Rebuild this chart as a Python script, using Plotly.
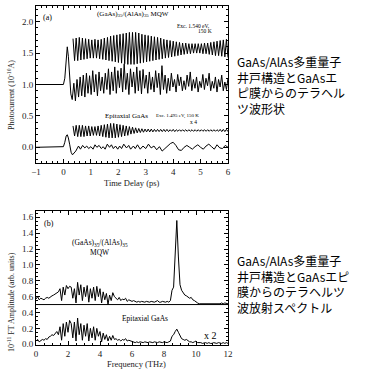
import numpy as np
import plotly.graph_objects as go

# ---------------- Panel (a): time-domain photocurrent ----------------
# MQW raw trace: onset part (time, value) then half-cycle extrema
mqw_raw_t0 = [-1.0, -0.6, -0.3, -0.1, 0.0, 0.05, 0.1, 0.14, 0.18, 0.22, 0.27, 0.32]
mqw_raw_v0 = [1.0, 1.0, 0.99, 1.0, 1.0, 1.1, 1.45, 1.6, 1.45, 1.15, 0.85, 0.76]
mqw_raw_osc = [
    1.02, 0.74, 1.08, 0.80, 1.12, 0.82, 1.15, 0.80, 1.18, 0.86,
    1.14, 0.84, 1.22, 0.88, 1.16, 0.82, 1.20, 0.90, 1.12, 0.86,
    1.18, 0.92, 1.25, 0.84, 1.20, 0.90, 1.28, 0.86, 1.22, 0.95,
    1.26, 0.88, 1.33, 0.92, 1.18, 0.84, 1.25, 0.96, 1.20, 0.86,
    1.28, 0.90, 1.22, 0.85, 1.24, 0.94, 1.15, 0.86, 1.20, 0.92,
    1.12, 0.88, 1.22, 0.95, 1.18, 0.84, 1.30, 0.92, 1.15, 0.86,
    1.10, 0.90, 1.18, 0.96, 1.08, 0.88, 1.16, 0.98, 1.12, 0.90,
    1.06, 0.92, 1.15, 0.97, 1.20, 0.90, 1.08, 0.94, 1.12, 0.88,
    1.05, 0.95, 1.16, 0.92, 1.10, 0.98, 1.18, 0.90, 1.05, 0.94,
    1.12, 0.88, 1.08, 0.96, 1.15, 0.90, 1.04, 0.92, 1.10,
]
mqw_osc_start = 0.38

# MQW filtered (upper) trace, half-cycle extrema from 0.35 ps to 6 ps
mqw_filt = [
    1.73, 1.38, 1.74, 1.38, 1.75, 1.39, 1.74, 1.40, 1.73, 1.41,
    1.72, 1.42, 1.71, 1.42, 1.72, 1.42, 1.71, 1.41, 1.72, 1.40,
    1.74, 1.39, 1.75, 1.38, 1.77, 1.37, 1.78, 1.36, 1.79, 1.35,
    1.80, 1.34, 1.81, 1.33, 1.82, 1.32, 1.83, 1.32, 1.83, 1.32,
    1.83, 1.33, 1.82, 1.34, 1.80, 1.35, 1.79, 1.36, 1.78, 1.37,
    1.77, 1.38, 1.76, 1.39, 1.75, 1.40, 1.74, 1.41, 1.72, 1.42,
    1.71, 1.43, 1.70, 1.44, 1.69, 1.45, 1.68, 1.46, 1.67, 1.47,
    1.66, 1.48, 1.66, 1.49, 1.65, 1.49, 1.65, 1.50, 1.65, 1.50,
    1.65, 1.50, 1.65, 1.49, 1.66, 1.49, 1.66, 1.48, 1.67, 1.47,
    1.68, 1.46, 1.69, 1.46, 1.70, 1.45, 1.71, 1.44, 1.72, 1.43,
]
filt_start = 0.35

# Epitaxial GaAs filtered (x4) trace, half-cycle extrema
gaas_filt = [
    0.34, 0.18, 0.35, 0.17, 0.35, 0.17, 0.35, 0.17, 0.34, 0.18,
    0.34, 0.18, 0.33, 0.19, 0.33, 0.19, 0.34, 0.18, 0.35, 0.17,
    0.36, 0.16, 0.37, 0.15, 0.38, 0.15, 0.38, 0.15, 0.37, 0.16,
    0.36, 0.17, 0.35, 0.18, 0.34, 0.19, 0.33, 0.21, 0.32, 0.22,
    0.31, 0.23, 0.30, 0.235, 0.295, 0.24, 0.29, 0.245, 0.29, 0.245,
    0.29, 0.245, 0.285, 0.25, 0.285, 0.25, 0.285, 0.25, 0.285, 0.25,
    0.285, 0.25, 0.28, 0.255, 0.285, 0.25, 0.28, 0.255, 0.28, 0.255,
    0.28, 0.255, 0.28, 0.255, 0.28, 0.255, 0.28, 0.255, 0.28, 0.255,
    0.28, 0.255, 0.28, 0.255, 0.28, 0.255, 0.28, 0.255, 0.28, 0.255,
    0.28, 0.255, 0.28, 0.255, 0.285, 0.25, 0.285, 0.25, 0.285, 0.25,
]

# Epitaxial GaAs raw trace (time, value)
gaas_raw_t = [-1.0, -0.5, -0.1, 0.0, 0.05, 0.1, 0.14, 0.18, 0.23, 0.28, 0.33, 0.38,
              0.45, 0.55, 0.62, 0.7, 0.78, 0.85, 0.92, 1.0, 1.08, 1.15, 1.22, 1.3,
              1.38, 1.45, 1.52, 1.6, 1.68, 1.75, 1.82, 1.9, 1.98, 2.05, 2.12, 2.2,
              2.3, 2.38, 2.45, 2.55, 2.62, 2.7, 2.8, 2.9, 3.0, 3.1, 3.2, 3.3, 3.4,
              3.5, 3.6, 3.7, 3.8, 3.9, 4.0, 4.1, 4.2, 4.3, 4.4, 4.5, 4.6, 4.7, 4.8,
              4.9, 5.0, 5.1, 5.2, 5.3, 5.4, 5.5, 5.6, 5.7, 5.8, 5.9, 6.0]
gaas_raw_v = [0.0, 0.0, 0.0, 0.01, 0.08, 0.18, 0.20, 0.15, 0.04, -0.08, -0.12, -0.10,
              -0.06, 0.02, -0.03, 0.03, -0.01, 0.02, -0.02, 0.01, -0.03, 0.04, 0.0, 0.03,
              -0.02, 0.01, -0.03, 0.05, 0.0, 0.04, -0.02, 0.02, -0.03, 0.02, -0.02, 0.05,
              -0.01, 0.03, -0.03, 0.02, -0.02, 0.04, -0.03, 0.02, -0.02, 0.05, -0.01, 0.02, -0.04,
              0.01, -0.06, -0.02, 0.02, 0.06, 0.08, 0.03, -0.04, -0.05, 0.0, 0.03, 0.0, -0.03, 0.01,
              0.04, 0.0, -0.03, 0.02, 0.05, 0.01, -0.03, 0.04, -0.01, -0.02, 0.03, 0.0]

# ---------------- Panel (b): FT spectra ----------------
freq = [round(0.1 * i, 1) for i in range(121)]
mqw_spec = [
    0.57, 0.60, 0.56, 0.58, 0.57, 0.56, 0.58, 0.59, 0.58, 0.60,
    0.61, 0.62, 0.63, 0.64, 0.66, 0.70, 0.55, 0.72, 0.62, 0.74,
    0.70, 0.73, 0.72, 0.58, 0.70, 0.52, 0.78, 0.62, 0.75, 0.55,
    0.72, 0.60, 0.74, 0.53, 0.70, 0.58, 0.72, 0.55, 0.73, 0.60,
    0.70, 0.52, 0.66, 0.56, 0.64, 0.50, 0.62, 0.55, 0.65, 0.60,
    0.58, 0.56, 0.59, 0.55, 0.57, 0.56, 0.58, 0.54, 0.56, 0.55,
    0.54, 0.55, 0.54, 0.53, 0.54, 0.53, 0.54, 0.53, 0.53, 0.54,
    0.53, 0.53, 0.54, 0.53, 0.53, 0.54, 0.55, 0.53, 0.53, 0.54,
    0.53, 0.53, 0.54, 0.53, 0.55, 0.68, 0.72, 1.20, 1.56, 1.10,
    0.75, 0.68, 0.64, 0.62, 0.61, 0.60, 0.58, 0.59, 0.56, 0.55,
    0.53, 0.52, 0.51, 0.51, 0.51, 0.51, 0.51, 0.51, 0.51, 0.51,
    0.51, 0.51, 0.51, 0.51, 0.51, 0.51, 0.52, 0.51, 0.52, 0.51,
    0.51,
]
gaas_spec = [
    0.04, 0.06, 0.03, 0.05, 0.06, 0.05, 0.07, 0.06, 0.09, 0.10,
    0.12, 0.11, 0.14, 0.16, 0.12, 0.22, 0.05, 0.26, 0.10, 0.28,
    0.15, 0.30, 0.26, 0.08, 0.28, 0.04, 0.33, 0.12, 0.26, 0.05,
    0.24, 0.10, 0.26, 0.04, 0.20, 0.08, 0.22, 0.05, 0.20, 0.10,
    0.16, 0.03, 0.14, 0.06, 0.12, 0.04, 0.10, 0.05, 0.11, 0.06,
    0.07, 0.05, 0.06, 0.04, 0.06, 0.05, 0.07, 0.04, 0.05, 0.04,
    0.03, 0.03, 0.02, 0.03, 0.02, 0.03, 0.02, 0.02, 0.03, 0.02,
    0.02, 0.03, 0.02, 0.02, 0.03, 0.02, 0.02, 0.03, 0.02, 0.02,
    0.03, 0.02, 0.02, 0.03, 0.04, 0.10, 0.12, 0.16, 0.19, 0.15,
    0.10, 0.07, 0.06, 0.05, 0.06, 0.04, 0.03, 0.03, 0.02, 0.03,
    0.04, 0.02, 0.02, 0.02, 0.01, 0.02, 0.02, 0.01, 0.02, 0.01,
    0.01, 0.02, 0.01, 0.01, 0.02, 0.01, 0.01, 0.02, 0.01, 0.02,
    0.01,
]

jp_text_a = ["GaAs/AlAs多重量子", "井戸構造とGaAsエ", "ピ膜からのテラヘル", "ツ波形状"]
jp_text_b = ["GaAs/AlAs多重量子", "井戸構造とGaAsエピ", "膜からのテラヘルツ", "波放射スペクトル"]


def grid(start, values, end=6.0):
    return list(np.linspace(start, end, len(values)))


W, H = 374, 370
SERIF = "Liberation Serif, Times New Roman, serif"
line = dict(color="black", width=1)

fig = go.Figure()
fig.add_trace(go.Scatter(x=mqw_raw_t0 + grid(mqw_osc_start, mqw_raw_osc),
                         y=mqw_raw_v0 + mqw_raw_osc, mode="lines", line=line,
                         xaxis="x", yaxis="y"))
fig.add_trace(go.Scatter(x=grid(filt_start, mqw_filt), y=mqw_filt, mode="lines",
                         line=line, xaxis="x", yaxis="y"))
fig.add_trace(go.Scatter(x=grid(filt_start, gaas_filt), y=gaas_filt, mode="lines",
                         line=line, xaxis="x", yaxis="y"))
fig.add_trace(go.Scatter(x=gaas_raw_t, y=gaas_raw_v, mode="lines", line=line,
                         xaxis="x", yaxis="y"))
fig.add_trace(go.Scatter(x=freq, y=mqw_spec, mode="lines", line=line,
                         xaxis="x2", yaxis="y2"))
fig.add_trace(go.Scatter(x=freq, y=gaas_spec, mode="lines", line=line,
                         xaxis="x2", yaxis="y2"))

xd = [36 / W, 228 / W]
ya = [1 - 163 / H, 1 - 6 / H]
yb = [1 - 345 / H, 1 - 211 / H]

axis_common = dict(showline=True, linecolor="black", linewidth=1, mirror="allticks",
                   ticks="inside", ticklen=4, tickcolor="black", showgrid=False,
                   zeroline=False, automargin=False,
                   tickfont=dict(family=SERIF, size=9, color="#222"))

fig.update_layout(
    width=W, height=H, margin=dict(l=0, r=0, t=0, b=0, autoexpand=False),
    paper_bgcolor="white", plot_bgcolor="white", showlegend=False,
    xaxis=dict(domain=xd, range=[-1, 6], dtick=1, anchor="y",
               minor=dict(dtick=0.2, ticks="inside", ticklen=2, tickcolor="black"),
               **axis_common),
    yaxis=dict(domain=ya, range=[-0.25, 2.25], dtick=0.5, tickformat=".1f", anchor="x",
               minor=dict(dtick=0.1, ticks="inside", ticklen=2, tickcolor="black"),
               **axis_common),
    xaxis2=dict(domain=xd, range=[0, 12], dtick=2, anchor="y2",
                minor=dict(dtick=0.5, ticks="inside", ticklen=2, tickcolor="black"),
                **axis_common),
    yaxis2=dict(domain=yb, range=[-0.01, 1.68], dtick=0.2, tickformat=".1f", anchor="x2",
                minor=dict(dtick=0.05, ticks="inside", ticklen=2, tickcolor="black"),
                **axis_common),
)

fig.add_shape(type="line", xref="x2", yref="y2", x0=0, x1=12, y0=0.5, y1=0.5,
              line=dict(color="black", width=1))


def note(text, x, y, xr, yr, size=8, xanchor="center", angle=0, color="black"):
    fig.add_annotation(text=text, x=x, y=y, xref=xr, yref=yr, showarrow=False,
                       xanchor=xanchor, yanchor="middle", textangle=angle, borderpad=0,
                       font=dict(family=SERIF, size=size, color=color))


# axis titles
note("Time Delay (ps)", 132 / W, 1 - 183 / H, "paper", "paper", 8.5, color="#222")
note("Frequency (THz)", 136 / W, 1 - 364 / H, "paper", "paper", 8.5, color="#222")
note("Photocurrent (10<sup>-10</sup>A)", 11 / W, 1 - 95 / H, "paper", "paper", 8, angle=-90, color="#222")
note("10<sup>-11</sup> FT Amplitude (arb. units)", 11 / W, 1 - 302 / H, "paper", "paper", 8,
     angle=-90, color="#222")

note("(a)", -0.78, 2.07, "x", "y", 8, "left")
note("(GaAs)<sub>35</sub>/(AlAs)<sub>35</sub> MQW", 2.55, 2.13, "x", "y", 7)
note("Exc. 1.540 eV,", 4.75, 1.93, "x", "y", 5.5)
note("150 K", 5.15, 1.85, "x", "y", 5.5)
note("Epitaxial GaAs", 2.3, 0.5, "x", "y", 7)
note("Exc. 1.495 eV, 150 K", 4.15, 0.5, "x", "y", 5)
note("x 4", 4.75, 0.41, "x", "y", 5.5)

note("(b)", 0.45, 1.52, "x2", "y2", 8, "left")
note("(GaAs)<sub>35</sub>/(AlAs)<sub>35</sub>", 4.0, 1.28, "x2", "y2", 7.5)
note("MQW", 4.0, 1.16, "x2", "y2", 7.5)
note("Epitaxial GaAs", 6.8, 0.33, "x2", "y2", 7.5)
note("x 2", 10.9, 0.11, "x2", "y2", 10)

JP = "Noto Sans CJK JP"
fig.add_annotation(text="<br>".join(jp_text_a), x=236 / W, y=1 - 85.5 / H, xref="paper",
                   yref="paper", showarrow=False, xanchor="left", yanchor="middle",
                   align="left", borderpad=0, font=dict(family=JP, size=12, color="black"))
fig.add_annotation(text="<br>".join(jp_text_b), x=236 / W, y=1 - 283.5 / H, xref="paper",
                   yref="paper", showarrow=False, xanchor="left", yanchor="middle",
                   align="left", borderpad=0, font=dict(family=JP, size=12, color="black"))

fig.write_html("out.html", config={"displayModeBar": False},
               post_script="document.body.style.margin='0';")
